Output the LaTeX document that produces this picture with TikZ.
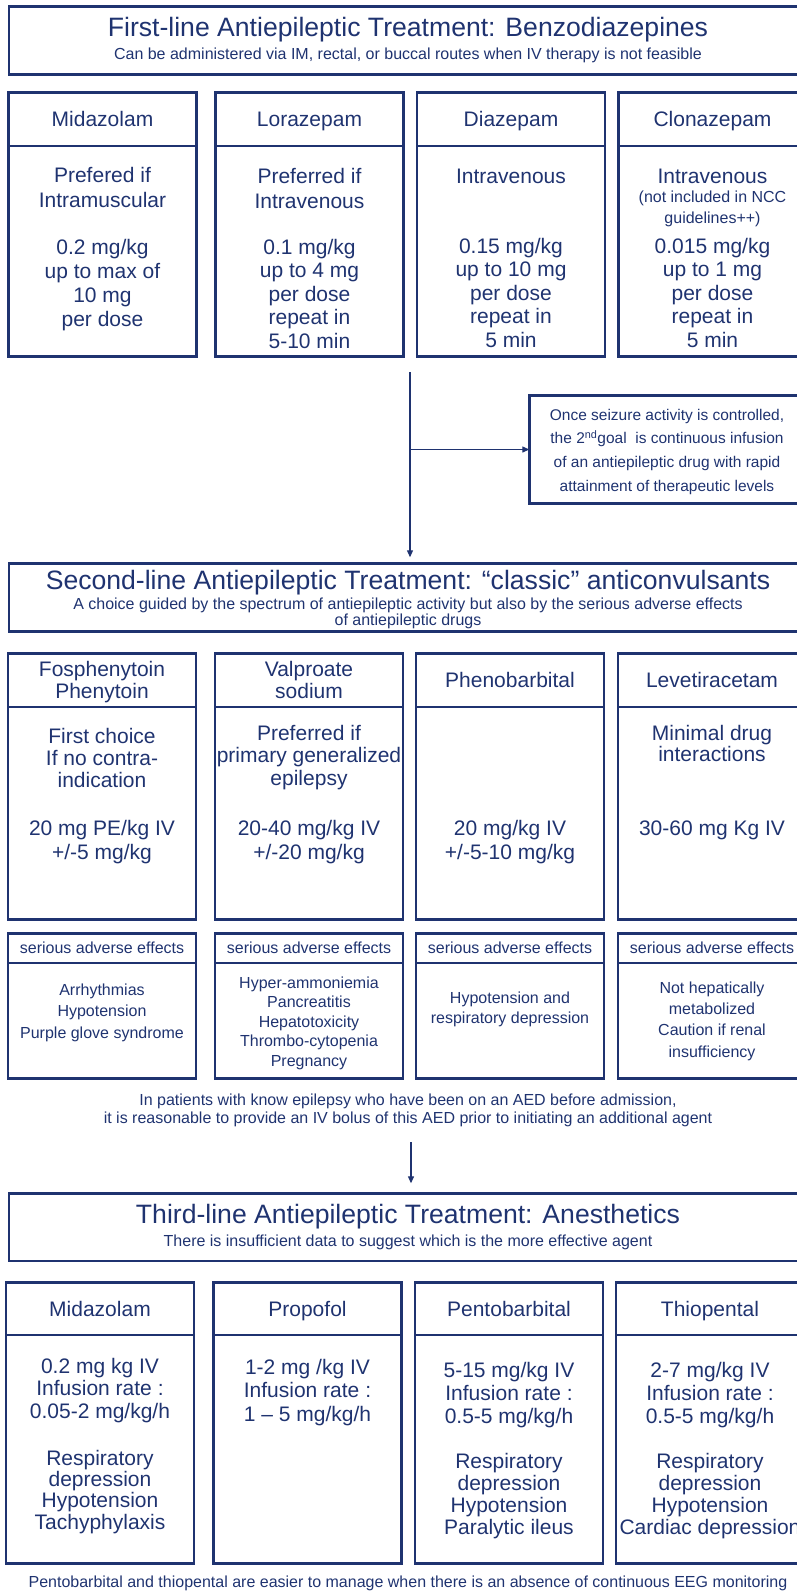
\documentclass[tikz,border=0pt]{standalone}
\usepackage{fontspec}
\setmainfont{Liberation Sans}
\usetikzlibrary{positioning,calc,arrows.meta}
\definecolor{SEnavy}{HTML}{1F3370}
\newcommand{\ttlfont}{\fontsize{26.6}{30}\selectfont}
\newcommand{\subfont}{\fontsize{16}{16}\selectfont}
\newcommand{\drugfont}{\fontsize{21}{23.5}\selectfont}
\newcommand{\sidefont}{\fontsize{16}{21.5}\selectfont}

\begin{document}
\begin{tikzpicture}[x=1pt,y=-1pt,
  box/.style={draw=SEnavy,line width=2.6pt,outer sep=0pt,inner sep=0pt},
  colbox/.style={box,minimum width=188pt},
  hdr/.style={colbox,text=SEnavy,align=center,font=\drugfont,text depth=0pt},
  sidehdr/.style={colbox,text=SEnavy,font=\sidefont,minimum height=29.7pt,text depth=0pt},
  txt/.style={text=SEnavy,align=center,inner sep=0pt,anchor=base},
  link/.style={draw=SEnavy,line width=1.2pt,-{Triangle[length=7pt,width=6pt]}}]
\useasboundingbox (0,0) rectangle (797,1591);
\clip (0,0) rectangle (797,1591);

% first line (text nodes sit on the baseline of their last line)
\node[box,minimum width=800pt,minimum height=68.4pt,anchor=north west] (secA) at (9,6.3) {};
\node[txt,font=\ttlfont] (secAttl) at (408,36) {First-line Antiepileptic Treatment: Benzodiazepines};
\node[txt,font=\subfont] (secAsub) at (408,59) {Can be administered via IM, rectal, or buccal routes when IV therapy is not feasible};

\node[hdr,minimum height=53.7pt,anchor=north] (midaA) at (102.5,92.3) {Midazolam};
\node[colbox,minimum height=210.7pt,below=0pt of midaA] (midaAbox) {};
\node[hdr,minimum height=53.7pt,anchor=north] (lora) at (309.5,92.3) {Lorazepam};
\node[colbox,minimum height=210.7pt,below=0pt of lora] (lorabox) {};
\node[hdr,minimum height=53.7pt,anchor=north] (diaz) at (511,92.3) {Diazepam};
\node[colbox,minimum height=210.7pt,below=0pt of diaz] (diazbox) {};
\node[hdr,minimum height=53.7pt,anchor=north] (clon) at (712.5,92.3) {Clonazepam};
\node[colbox,minimum height=210.7pt,below=0pt of clon] (clonbox) {};

\node[txt,font=\fontsize{21}{25}\selectfont] (midaAuse) at (102.5,207) {Prefered if\\Intramuscular};
\node[txt,font=\fontsize{21}{23.7}\selectfont] (midaAdose) at (102.5,326) {0.2 mg/kg\\up to max of\\10 mg\\per dose};
\node[txt,font=\fontsize{21}{25}\selectfont] (lorause) at (309.5,208) {Preferred if\\Intravenous};
\node[txt,font=\drugfont] (loradose) at (309.5,348) {0.1 mg/kg\\up to 4 mg\\per dose\\repeat in\\5-10 min};
\node[txt,font=\drugfont] (diazuse) at (511,183) {Intravenous};
\node[txt,font=\drugfont] (diazdose) at (511,347) {0.15 mg/kg\\up to 10 mg\\per dose\\repeat in\\5 min};
\node[txt,font=\drugfont] (clonuse) at (712.5,183) {Intravenous};
\node[txt,font=\fontsize{16}{21}\selectfont] (clonnote) at (712.5,223) {(not included in NCC\\guidelines++)};
\node[txt,font=\drugfont] (clondose) at (712.5,347) {0.015 mg/kg\\up to 1 mg\\per dose\\repeat in\\5 min};

% second goal
\coordinate (split) at (410,372);
\node[box,minimum width=300pt,minimum height=108.4pt,anchor=north west] (goal) at (529.3,395.3) {};
\node[txt,font=\fontsize{15.5}{23.6}\selectfont] (goaltxt) at (667,491) {Once seizure activity is controlled,\\the 2\textsuperscript{nd}goal\ \ is continuous infusion\\of an antiepileptic drug with rapid\\attainment of therapeutic levels};

% second line
\node[box,minimum width=800pt,minimum height=68.4pt,anchor=north west] (secB) at (9,563.3) {};
\node[txt,font=\ttlfont] (secBttl) at (408,589) {Second-line Antiepileptic Treatment: “classic” anticonvulsants};
\node[txt,font=\subfont] (secBsub) at (408,625) {A choice guided by the spectrum of antiepileptic activity but also by the serious adverse effects\\of antiepileptic drugs};

\draw[link,shorten >=6pt] (split) -- (split |- secB.north);
\draw[link] (split |- goal.west) -- (goal.west);

\node[hdr,minimum height=53.7pt,anchor=north,font=\fontsize{21}{22}\selectfont] (fosp) at (102,653.3) {Fosphenytoin\\Phenytoin};
\node[colbox,minimum height=212.7pt,below=0pt of fosp] (fospbox) {};
\node[hdr,minimum height=53.7pt,anchor=north,font=\fontsize{21}{22}\selectfont] (valp) at (309,653.3) {Valproate\\sodium};
\node[colbox,minimum height=212.7pt,below=0pt of valp] (valpbox) {};
\node[hdr,minimum height=53.7pt,anchor=north] (phen) at (510,653.3) {Phenobarbital};
\node[colbox,minimum height=212.7pt,below=0pt of phen] (phenbox) {};
\node[hdr,minimum height=53.7pt,anchor=north] (leve) at (712,653.3) {Levetiracetam};
\node[colbox,minimum height=212.7pt,below=0pt of leve] (levebox) {};

\node[txt,font=\fontsize{21}{22}\selectfont] (fospuse) at (102,787) {First choice\\If no contra-\\indication};
\node[txt,font=\fontsize{21}{24}\selectfont] (fospdose) at (102,859) {20 mg PE/kg IV\\+/-5 mg/kg};
\node[txt,font=\fontsize{21}{22.5}\selectfont] (valpuse) at (309,785) {Preferred if\\primary generalized\\epilepsy};
\node[txt,font=\fontsize{21}{24}\selectfont] (valpdose) at (309,859) {20-40 mg/kg IV\\+/-20 mg/kg};
\node[txt,font=\fontsize{21}{24}\selectfont] (phendose) at (510,859) {20 mg/kg IV\\+/-5-10 mg/kg};
\node[txt,font=\fontsize{21}{21}\selectfont] (leveuse) at (712,761) {Minimal drug\\interactions};
\node[txt,font=\drugfont] (levedose) at (712,835) {30-60 mg Kg IV};

% serious adverse effects
\node[sidehdr,anchor=north] (fospae) at (102,933.3) {serious adverse effects};
\node[colbox,minimum height=115.7pt,below=0pt of fospae] (fospaebox) {};
\node[sidehdr,anchor=north] (valpae) at (309,933.3) {serious adverse effects};
\node[colbox,minimum height=115.7pt,below=0pt of valpae] (valpaebox) {};
\node[sidehdr,anchor=north] (phenae) at (510,933.3) {serious adverse effects};
\node[colbox,minimum height=115.7pt,below=0pt of phenae] (phenaebox) {};
\node[sidehdr,anchor=north] (leveae) at (712,933.3) {serious adverse effects};
\node[colbox,minimum height=115.7pt,below=0pt of leveae] (leveaebox) {};

\node[txt,font=\sidefont] (fospaetxt) at (102,1038) {Arrhythmias\\Hypotension\\Purple glove syndrome};
\node[txt,font=\fontsize{16}{19.5}\selectfont] (valpaetxt) at (309,1066) {Hyper-ammoniemia\\Pancreatitis\\Hepatotoxicity\\Thrombo-cytopenia\\Pregnancy};
\node[txt,font=\fontsize{16}{20.5}\selectfont] (phenaetxt) at (510,1023.5) {Hypotension and\\respiratory depression};
\node[txt,font=\fontsize{16}{21.3}\selectfont] (leveaetxt) at (712,1057) {Not hepatically\\metabolized\\Caution if renal\\insufficiency};

\node[txt,font=\fontsize{16}{18.5}\selectfont] (bolus) at (408,1123.5) {In patients with know epilepsy who have been on an AED before admission,\\it is reasonable to provide an IV bolus of this AED prior to initiating an additional agent};
\coordinate (split2) at (411,1142);

% third line
\node[box,minimum width=800pt,minimum height=67.7pt,anchor=north west] (secC) at (9,1193.3) {};
\node[txt,font=\ttlfont] (secCttl) at (408,1223) {Third-line Antiepileptic Treatment: Anesthetics};
\node[txt,font=\subfont] (secCsub) at (408,1246) {There is insufficient data to suggest which is the more effective agent};

\draw[link,shorten >=10pt] (split2) -- (split2 |- secC.north);

\node[hdr,minimum height=52.7pt,anchor=north] (midaC) at (100,1282.3) {Midazolam};
\node[colbox,minimum height=228.7pt,below=0pt of midaC] (midaCbox) {};
\node[hdr,minimum height=52.7pt,anchor=north] (prop) at (307.5,1282.3) {Propofol};
\node[colbox,minimum height=228.7pt,below=0pt of prop] (propbox) {};
\node[hdr,minimum height=52.7pt,anchor=north] (pent) at (509,1282.3) {Pentobarbital};
\node[colbox,minimum height=228.7pt,below=0pt of pent] (pentbox) {};
\node[hdr,minimum height=52.7pt,anchor=north] (thio) at (710,1282.3) {Thiopental};
\node[colbox,minimum height=228.7pt,below=0pt of thio] (thiobox) {};

\node[txt,font=\fontsize{21}{22.5}\selectfont] (midaCdose) at (100,1418) {0.2 mg kg IV\\Infusion rate :\\0.05-2 mg/kg/h};
\node[txt,font=\fontsize{21}{21.3}\selectfont] (midaCae) at (100,1529) {Respiratory\\depression\\Hypotension\\Tachyphylaxis};
\node[txt,font=\drugfont] (propdose) at (307.5,1421) {1-2 mg /kg IV\\Infusion rate :\\1 – 5 mg/kg/h};
\node[txt,font=\fontsize{21}{23.3}\selectfont] (pentdose) at (509,1423.6) {5-15 mg/kg IV\\Infusion rate :\\0.5-5 mg/kg/h};
\node[txt,font=\fontsize{21}{21.7}\selectfont] (pentae) at (509,1534) {Respiratory\\depression\\Hypotension\\Paralytic ileus};
\node[txt,font=\fontsize{21}{23.3}\selectfont] (thiodose) at (710,1423.6) {2-7 mg/kg IV\\Infusion rate :\\0.5-5 mg/kg/h};
\node[txt,font=\fontsize{21}{21.7}\selectfont] (thioae) at (710,1534) {Respiratory\\depression\\Hypotension\\Cardiac depression};

\node[txt,font=\subfont] (eeg) at (408,1587) {Pentobarbital and thiopental are easier to manage when there is an absence of continuous EEG monitoring};
\end{tikzpicture}
\end{document}
